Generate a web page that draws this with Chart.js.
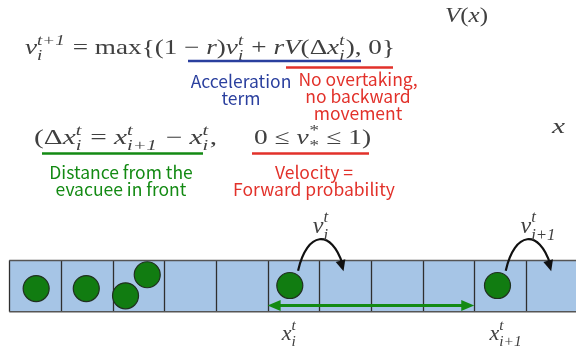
<!DOCTYPE html>
<html>
<head>
<meta charset="utf-8">
<script src="https://cdn.jsdelivr.net/npm/chart.js@4.4.0/dist/chart.umd.min.js"></script>
<style>
  body { margin: 0; background: #fff; }
  canvas { display: block; }
</style>
</head>
<body>
<canvas id="lane" width="576" height="350"></canvas>
<script>
// corridor cells (x in cell units, y: 0 = bottom of strip, 1 = top)
const cellEdges = [0, 1, 2, 3, 4, 5, 6, 7, 8, 9, 10];
const stripEnd = 11;
// evacuees
const evacueeX = [0.52, 1.49, 2.25, 2.67, 5.43, 9.45];
const evacueeY = [0.45, 0.45, 0.31, 0.72, 0.51, 0.51];
// distance arrow between x_i and x_{i+1}
const gapFrom = 5;
const gapTo = 9;
const gapY = 0.12;
// evacuees that hop forward (index into evacueeX)
const hoppers = [4, 5];
const hopLabels = [['v', 'i', 't'], ['v', 'i+1', 't']];
const posLabels = [['x', 'i', 't'], ['x', 'i+1', 't']];

const lane = document.getElementById('lane');
const laneCtx = lane.getContext('2d');

const MATH_FONT = '"Liberation Serif", "DejaVu Serif", serif';
const MATH_COLOR = '#404040';
const LABEL_FONT = '17.5px "Noto Sans CJK JP", "Noto Sans", sans-serif';

// tokens: [text, 'r'|'i'] or ['ss', sub, sup]
function mathWidth(ctx, tokens, size) {
    let w = 0;
    tokens.forEach(t => {
        if (t[0] === 'ss') {
            ctx.font = 'italic ' + (size * 0.7) + 'px ' + MATH_FONT;
            w += Math.max(ctx.measureText(t[1]).width, ctx.measureText(t[2]).width) + 1;
        } else {
            ctx.font = (t[1] === 'i' ? 'italic ' : '') + size + 'px ' + MATH_FONT;
            w += ctx.measureText(t[0]).width;
        }
    });
    return w;
}

function drawMath(ctx, tokens, x, baseline, size, targetWidth) {
    const w = mathWidth(ctx, tokens, size);
    const sx = targetWidth ? targetWidth / w : 1;
    ctx.save();
    ctx.translate(x, baseline);
    ctx.scale(sx, 1);
    ctx.fillStyle = MATH_COLOR;
    ctx.textBaseline = 'alphabetic';
    ctx.textAlign = 'left';
    let cx = 0;
    tokens.forEach(t => {
        if (t[0] === 'ss') {
            ctx.font = 'italic ' + (size * 0.7) + 'px ' + MATH_FONT;
            ctx.fillText(t[1], cx, size * 0.28);
            ctx.fillText(t[2], cx, -size * 0.45);
            cx += Math.max(ctx.measureText(t[1]).width, ctx.measureText(t[2]).width) + 1;
        } else {
            ctx.font = (t[1] === 'i' ? 'italic ' : '') + size + 'px ' + MATH_FONT;
            ctx.fillText(t[0], cx, 0);
            cx += ctx.measureText(t[0]).width;
        }
    });
    ctx.restore();
}

function labelLines(ctx, lines, cx, cy, color, step) {
    ctx.save();
    ctx.font = LABEL_FONT;
    ctx.fillStyle = color;
    ctx.textAlign = 'center';
    ctx.textBaseline = 'middle';
    lines.forEach((l, i) => ctx.fillText(l, cx, cy + i * step));
    ctx.restore();
}

function underline(ctx, x1, x2, y, color) {
    ctx.save();
    ctx.strokeStyle = color;
    ctx.lineWidth = 2.5;
    ctx.beginPath();
    ctx.moveTo(x1, y);
    ctx.lineTo(x2, y);
    ctx.stroke();
    ctx.restore();
}

function arrowHead(ctx, tipX, tipY, angle, len, half, color) {
    ctx.save();
    ctx.translate(tipX, tipY);
    ctx.rotate(angle);
    ctx.fillStyle = color;
    ctx.beginPath();
    ctx.moveTo(0, 0);
    ctx.lineTo(-len, -half);
    ctx.lineTo(-len, half);
    ctx.closePath();
    ctx.fill();
    ctx.restore();
}

const diagram = {
    id: 'diagram',
    beforeDatasetsDraw(chart) {
        const { ctx, scales: { x, y } } = chart;
        const left = x.getPixelForValue(cellEdges[0]);
        const right = x.getPixelForValue(stripEnd);
        const top = y.getPixelForValue(1);
        const bottom = y.getPixelForValue(0);
        ctx.save();
        ctx.fillStyle = '#a6c5e6';
        ctx.fillRect(left, top, right - left, bottom - top);
        ctx.strokeStyle = '#2f2f2f';
        ctx.lineWidth = 1.3;
        cellEdges.forEach(e => {
            const px = Math.round(x.getPixelForValue(e)) + 0.5;
            ctx.beginPath();
            ctx.moveTo(px, top);
            ctx.lineTo(px, bottom);
            ctx.stroke();
        });
        ctx.strokeStyle = '#555';
        ctx.lineWidth = 1.5;
        ctx.beginPath();
        ctx.moveTo(left, top);
        ctx.lineTo(right, top);
        ctx.moveTo(left, bottom);
        ctx.lineTo(right, bottom);
        ctx.stroke();
        ctx.restore();
    },
    afterDatasetsDraw(chart) {
        const { ctx, scales: { x, y } } = chart;
        const green = '#138a13';

        // distance arrow
        const gx1 = x.getPixelForValue(gapFrom);
        const gx2 = x.getPixelForValue(gapTo);
        const gy = y.getPixelForValue(gapY);
        ctx.save();
        ctx.strokeStyle = green;
        ctx.lineWidth = 3;
        ctx.beginPath();
        ctx.moveTo(gx1 + 10, gy);
        ctx.lineTo(gx2 - 10, gy);
        ctx.stroke();
        ctx.restore();
        arrowHead(ctx, gx1, gy, Math.PI, 13, 5.5, green);
        arrowHead(ctx, gx2, gy, 0, 13, 5.5, green);

        // hop arrows and labels
        hoppers.forEach((k, n) => {
            const sx = x.getPixelForValue(evacueeX[k] + 0.16);
            const sy = y.getPixelForValue(evacueeY[k] + 0.29);
            const ex = x.getPixelForValue(evacueeX[k] + 1.04);
            const ey = y.getPixelForValue(evacueeY[k] + 0.28);
            const c1x = sx + 9, c1y = sy - 40;
            const c2x = ex - 12, c2y = ey - 42;
            ctx.save();
            ctx.strokeStyle = '#111';
            ctx.lineWidth = 2.2;
            ctx.beginPath();
            ctx.moveTo(sx, sy);
            ctx.bezierCurveTo(c1x, c1y, c2x, c2y, ex - 1, ey - 7);
            ctx.stroke();
            ctx.restore();
            arrowHead(ctx, ex, ey, Math.atan2(ey - c2y, ex - c2x), 11, 5, '#111');

            const peakX = (sx + ex) / 2;
            const hl = hopLabels[n];
            drawMath(ctx, [[hl[0], 'i'], ['ss', hl[1], hl[2]]], peakX - 8, 233, 24, null);
            const pl = posLabels[n];
            const cx = x.getPixelForValue(evacueeX[k]);
            drawMath(ctx, [[pl[0], 'i'], ['ss', pl[1], pl[2]]], cx - 8, 340, 22, null);
        });

        // equations
        drawMath(ctx, [
            ['v', 'i'], ['ss', 'i', 't+1'], [' = max{(1 \u2212 ', 'r'], ['r', 'i'], [')', 'r'],
            ['v', 'i'], ['ss', 'i', 't'], [' + ', 'r'], ['rV', 'i'], ['(\u0394', 'r'],
            ['x', 'i'], ['ss', 'i', 't'], ['), 0}', 'r']
        ], 25, 54, 21, 370);
        drawMath(ctx, [
            ['(\u0394', 'r'], ['x', 'i'], ['ss', 'i', 't'], [' = ', 'r'], ['x', 'i'], ['ss', 'i+1', 't'],
            [' \u2212 ', 'r'], ['x', 'i'], ['ss', 'i', 't'], [',', 'r']
        ], 34, 144, 21, 183);
        drawMath(ctx, [
            ['0 \u2264 ', 'r'], ['v', 'i'], ['ss', '*', '*'], [' \u2264 1)', 'r']
        ], 254, 144, 21, 117);
        drawMath(ctx, [['V', 'i'], ['(', 'r'], ['x', 'i'], [')', 'r']], 445, 22, 20, 43);
        drawMath(ctx, [['x', 'i']], 552, 133, 22, 13);

        // annotations
        const blue = '#2a3f9e';
        const red = '#e2312a';
        underline(ctx, 188, 361, 61, blue);
        underline(ctx, 286, 393, 67.5, red);
        labelLines(ctx, ['Acceleration', 'term'], 241, 81, blue, 17);
        labelLines(ctx, ['No overtaking,', 'no backward', 'movement'], 358, 79, red, 17);
        underline(ctx, 42, 203, 153.5, green);
        underline(ctx, 252, 369, 153.5, red);
        labelLines(ctx, ['Distance from the', 'evacuee in front'], 121, 172, green, 17);
        labelLines(ctx, ['Velocity =', 'Forward probability'], 314, 172, red, 17);
    }
};

new Chart(laneCtx, {
    type: 'bubble',
    data: {
        datasets: [
            {
                label: 'Evacuees',
                data: evacueeX.map((v, i) => ({ x: v, y: evacueeY[i], r: 13 })),
                backgroundColor: '#117c11',
                borderColor: '#203020',
                borderWidth: 1.2
            }
        ]
    },
    options: {
        responsive: false,
        animation: false,
        layout: { padding: 0, autoPadding: false },
        plugins: {
            legend: { display: false },
            tooltip: { enabled: false }
        },
        scales: {
            x: { type: 'linear', display: false, min: -0.18, max: 10.97 },
            y: { type: 'linear', display: false, min: -0.747, max: 6.076 }
        }
    },
    plugins: [diagram]
});
</script>
</body>
</html>
